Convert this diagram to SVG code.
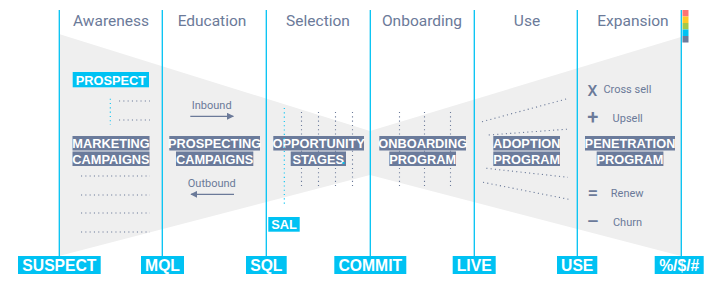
<svg xmlns="http://www.w3.org/2000/svg" width="717" height="283" viewBox="0 0 717 283">
<defs>
<style>
.hdr{font-family:Roboto,"Liberation Sans",sans-serif;font-size:15.5px;fill:#6b7a99;text-anchor:middle}
.sm{font-family:Roboto,"Liberation Sans",sans-serif;font-size:11px;fill:#6b7a99;text-anchor:middle}
.sym{font-family:Roboto,"Liberation Sans",sans-serif;font-size:19px;font-weight:500;fill:#6b7a99;text-anchor:middle}
.vl{stroke:#00c2f3;stroke-width:1.3;fill:none}
.cb{fill:#00c2f3}
.bt{font-family:"Liberation Sans",Arial,sans-serif;font-weight:bold;font-size:15.7px;fill:#fff;text-anchor:middle}
.st{font-family:"Liberation Sans",Arial,sans-serif;font-weight:bold;font-size:12.8px;fill:#fff;text-anchor:middle}
.sb{fill:#6b7b9b}
.dot{stroke:#6b7a99;stroke-width:1.1;stroke-dasharray:1.1 3.2;fill:none}
.cdot{stroke:#00c2f3;stroke-width:1.1;stroke-dasharray:1.1 3.2;fill:none}
.arr{stroke:#6b7a99;stroke-width:1.3;fill:none}
</style>
<marker id="ah" viewBox="0 0 10 10" refX="9" refY="5" markerWidth="7" markerHeight="7" markerUnits="userSpaceOnUse" orient="auto">
<path d="M0,0 L10,5 L0,10 z" fill="#6b7a99"/>
</marker>
</defs>
<rect width="717" height="283" fill="#fff"/>
<polygon id="funnel" points="59,34 370,131 681,37 681,256 370,175 59,256" fill="#efefef"/>
<g id="headers">
<text class="hdr" x="111" y="26">Awareness</text>
<text class="hdr" x="212" y="26">Education</text>
<text class="hdr" x="318" y="26">Selection</text>
<text class="hdr" x="422" y="26">Onboarding</text>
<text class="hdr" x="527" y="26">Use</text>
<text class="hdr" x="633" y="26">Expansion</text>
</g>
<g id="legend">
<rect x="682.5" y="10" width="6" height="6.5" fill="#ff7373"/>
<rect x="682.5" y="16.5" width="6" height="6.5" fill="#ffc926"/>
<rect x="682.5" y="23" width="6" height="6.5" fill="#a3c94a"/>
<rect x="682.5" y="29.5" width="6" height="6.5" fill="#00c2f3"/>
<rect x="682.5" y="36" width="6" height="6.5" fill="#6b7b9b"/>
</g>
<g id="connectors">
<line class="vl" x1="59.3" y1="10" x2="59.3" y2="256"/>
<line class="vl" x1="162.3" y1="10" x2="162.3" y2="256"/>
<line class="vl" x1="266.3" y1="10" x2="266.3" y2="256"/>
<line class="vl" x1="370.3" y1="10" x2="370.3" y2="256"/>
<line class="vl" x1="474.3" y1="10" x2="474.3" y2="256"/>
<line class="vl" x1="577.3" y1="10" x2="577.3" y2="256"/>
<line class="vl" x1="681.3" y1="10" x2="681.3" y2="256"/>
<line class="dot" x1="119" y1="101" x2="150" y2="101"/>
<line class="dot" x1="119" y1="120" x2="150" y2="120"/>
<line class="dot" x1="81" y1="176" x2="150" y2="176"/>
<line class="dot" x1="81" y1="195" x2="150" y2="195"/>
<line class="dot" x1="81" y1="213" x2="150" y2="213"/>
<line class="dot" x1="81" y1="232" x2="150" y2="232"/>
<line class="dot" x1="301.5" y1="112" x2="301.5" y2="186"/>
<line class="dot" x1="318.5" y1="112" x2="318.5" y2="186"/>
<line class="dot" x1="335.5" y1="112" x2="335.5" y2="186"/>
<line class="dot" x1="352.5" y1="112" x2="352.5" y2="186"/>
<line class="dot" x1="399.5" y1="112" x2="399.5" y2="186"/>
<line class="dot" x1="424.5" y1="112" x2="424.5" y2="186"/>
<line class="dot" x1="450.5" y1="112" x2="450.5" y2="186"/>
<line class="dot" x1="482" y1="121.7" x2="566.3" y2="99"/>
<line class="dot" x1="488.7" y1="135" x2="569.7" y2="129"/>
<line class="dot" x1="486.3" y1="168.3" x2="568" y2="177.3"/>
<line class="dot" x1="483" y1="182.3" x2="568.7" y2="199.3"/>
<line class="arr" x1="190.3" y1="116.3" x2="233.3" y2="116.3" marker-end="url(#ah)"/>
<line class="arr" x1="234" y1="194.3" x2="191" y2="194.3" marker-end="url(#ah)"/>
</g>
<g id="marketing">
<rect class="sb" x="72.5" y="136" width="77" height="14.5"/>
<rect class="sb" x="72.5" y="151.5" width="77" height="14.5"/>
<text class="st" x="111" y="148.3">MARKETING</text>
<text class="st" x="111" y="164">CAMPAIGNS</text>
</g>
<g id="prospecting">
<rect class="sb" x="169.3" y="136" width="90.7" height="14.5"/>
<rect class="sb" x="176" y="151.5" width="77.3" height="14.5"/>
<text class="st" x="214.6" y="148.3">PROSPECTING</text>
<text class="st" x="214.6" y="164">CAMPAIGNS</text>
</g>
<g id="opportunity">
<rect class="sb" x="273.3" y="136" width="90.7" height="14.5"/>
<rect class="sb" x="290.7" y="151.5" width="55.3" height="14.5"/>
<text class="st" x="318.7" y="148.3">OPPORTUNITY</text>
<text class="st" x="318.3" y="164">STAGES</text>
<rect x="342.5" y="162" width="2" height="2" fill="#00c2f3"/>
</g>
<g id="onboarding">
<rect class="sb" x="379.3" y="136" width="86.7" height="14.5"/>
<rect class="sb" x="389.3" y="151.5" width="66.7" height="14.5"/>
<text class="st" x="422.7" y="148.3">ONBOARDING</text>
<text class="st" x="422.7" y="164">PROGRAM</text>
</g>
<g id="adoption">
<rect class="sb" x="493.3" y="136" width="66.7" height="14.5"/>
<rect class="sb" x="493.3" y="151.5" width="66.7" height="14.5"/>
<text class="st" x="526.7" y="148.3">ADOPTION</text>
<text class="st" x="526.7" y="164">PROGRAM</text>
</g>
<g id="penetration">
<rect class="sb" x="585" y="136" width="90" height="14.5"/>
<rect class="sb" x="596.7" y="151.5" width="66.7" height="14.5"/>
<text class="st" x="630" y="148.3">PENETRATION</text>
<text class="st" x="630" y="164">PROGRAM</text>
</g>
<g id="cyan-dotted">
<line class="cdot" x1="110.3" y1="98.7" x2="110.3" y2="125"/>
<line class="cdot" x1="284.3" y1="108" x2="284.3" y2="205"/>
</g>
<g id="prospect">
<rect class="cb" x="72.7" y="72" width="76.3" height="15.3"/>
<text class="st" x="110.9" y="84.6">PROSPECT</text>
</g>
<g id="sal">
<rect class="cb" x="268.3" y="217" width="31.4" height="14.7"/>
<text class="st" x="284" y="229.3">SAL</text>
</g>
<g id="flow-labels">
<text class="sm" x="211.7" y="108.7">Inbound</text>
<text class="sm" x="211.8" y="186.7">Outbound</text>
</g>
<g id="expansion-items">
<text class="sym" x="592.3" y="95.5" style="font-size:15.5px">X</text>
<text class="sm" x="627.4" y="93.3">Cross sell</text>
<text class="sym" x="592.8" y="123.5" style="font-size:20px">+</text>
<text class="sm" x="627.7" y="121.7">Upsell</text>
<text class="sym" x="592.8" y="199">=</text>
<text class="sm" x="627.2" y="197.3">Renew</text>
<text class="sym" x="592.8" y="227.5">–</text>
<text class="sm" x="627.5" y="226">Churn</text>
</g>
<g id="suspect"><rect class="cb" x="18" y="256" width="82.7" height="18"/><text class="bt" x="59.4" y="271.2">SUSPECT</text></g>
<g id="mql"><rect class="cb" x="141" y="256" width="43" height="18"/><text class="bt" x="162.5" y="271.2">MQL</text></g>
<g id="sql"><rect class="cb" x="246" y="256" width="40.7" height="18"/><text class="bt" x="266.3" y="271.2">SQL</text></g>
<g id="commit"><rect class="cb" x="334.3" y="256" width="72" height="18"/><text class="bt" x="370.3" y="271.2">COMMIT</text></g>
<g id="live"><rect class="cb" x="452.7" y="256" width="43" height="18"/><text class="bt" x="474.2" y="271.2">LIVE</text></g>
<g id="use"><rect class="cb" x="557" y="256" width="40.3" height="18"/><text class="bt" x="577.2" y="271.2">USE</text></g>
<g id="metric"><rect class="cb" x="654.7" y="256" width="49" height="18"/><text class="bt" x="679.2" y="271.2">%/$/#</text></g>
</svg>
